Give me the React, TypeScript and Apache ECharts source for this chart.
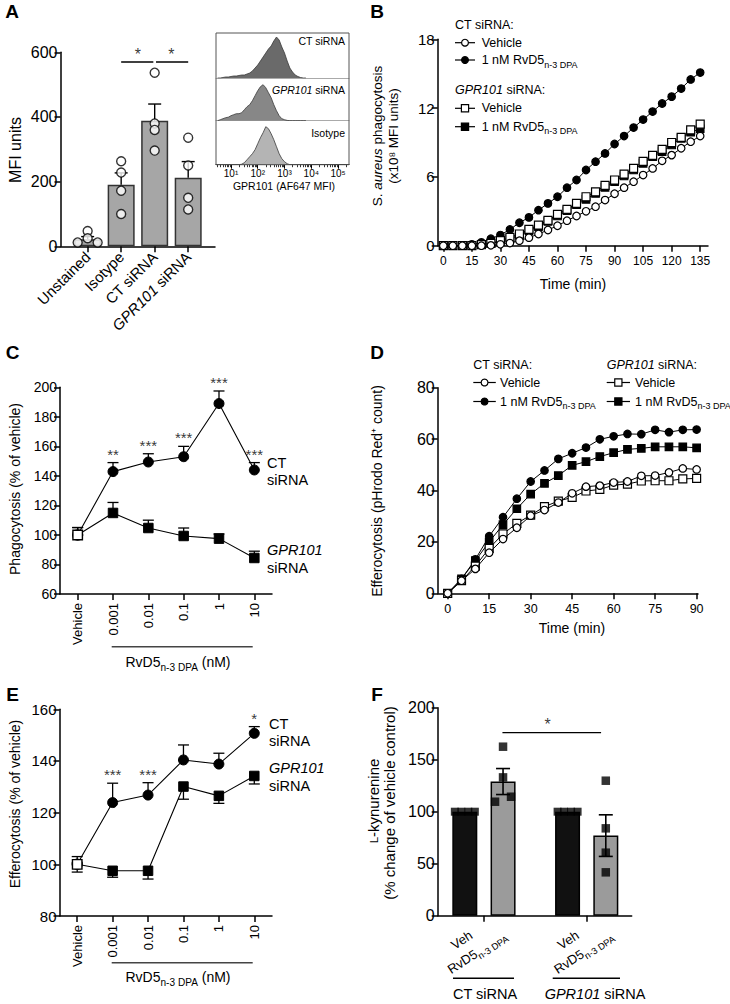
import React, { useEffect, useRef } from 'react';
import * as echarts from 'echarts';

const FONT = '"Liberation Sans", Arial, Helvetica, sans-serif';

// ---------------- Panel A ----------------
const aCategories = ['Unstained', 'Isotype', 'CT siRNA', 'GPR101 siRNA'];
const aMeans = [22, 190, 388, 212];
const aSem = [8, 37, 52, 50];
const aPoints = [
  [47, 25, 12, 12],
  [263, 228, 172, 100],
  [537, 380, 360, 296],
  [336, 250, 150, 114],
];
const aSigValue = 570;

// histogram inset (log10 of fluorescence, relative counts)
const histLog = [0.5, 0.6, 0.7, 0.8, 0.9, 1.0, 1.1, 1.2, 1.3, 1.4, 1.5, 1.6, 1.7, 1.8, 1.9, 2.0, 2.1, 2.2, 2.3, 2.4, 2.5, 2.6, 2.7, 2.8, 2.9, 3.0, 3.1, 3.2, 3.3, 3.4, 3.5, 3.6, 3.7, 3.8];
const histCT = [0, 0, 0.5, 1, 1, 1.5, 2, 2, 2.5, 3, 3, 4, 5, 7, 10, 13, 17, 21, 25, 29, 32, 37, 41, 38, 31, 25, 17, 10, 6, 3, 1.5, 0.5, 0, 0];
const histGPR = [0, 1, 2, 3, 3.5, 5, 6, 7, 7, 8, 11, 14, 16, 20, 25, 30, 34, 36, 33, 28, 23, 16, 10, 5, 2, 1, 0.3, 0, 0, 0, 0, 0, 0, 0];
const histIso = [0, 0, 0, 0, 0, 0, 0, 0, 0, 0.5, 2, 5, 8, 11, 15, 21, 27, 32, 38, 36, 31, 25, 18, 11, 6, 3, 1, 0, 0, 0, 0, 0, 0, 0];
const histTicks = [1, 2, 3, 4, 5];

// ---------------- Panel B ----------------
const bTime = [0, 5, 10, 15, 20, 25, 30, 35, 40, 45, 50, 55, 60, 65, 70, 75, 80, 85, 90, 95, 100, 105, 110, 115, 120, 125, 130, 135];
const bTicks = [0, 15, 30, 45, 60, 75, 90, 105, 120, 135];
const bCtVeh = [0, 0, 0, 0, 0, 0.03, 0.12, 0.23, 0.44, 0.7, 1.02, 1.37, 1.74, 2.18, 2.59, 3.0, 3.4, 3.98, 4.53, 5.06, 5.58, 6.16, 6.74, 7.4, 7.9, 8.5, 9.07, 9.56];
const bCtRv = [0, 0, 0, 0.12, 0.29, 0.61, 0.93, 1.42, 2.0, 2.47, 3.1, 3.69, 4.27, 5.06, 5.73, 6.6, 7.33, 8.05, 8.87, 9.56, 10.3, 11.0, 11.7, 12.4, 13.0, 13.7, 14.5, 15.1];
const bGprVeh = [0, 0, 0, 0, 0.09, 0.2, 0.44, 0.73, 1.02, 1.42, 1.8, 2.21, 2.73, 3.17, 3.69, 4.27, 4.7, 5.26, 5.73, 6.25, 6.74, 7.35, 7.88, 8.4, 9.0, 9.45, 10.1, 10.6];
const bGprRv = [0, 0, 0, 0.02, 0.09, 0.2, 0.38, 0.61, 0.9, 1.31, 1.66, 2.12, 2.59, 3.05, 3.58, 4.04, 4.56, 5.09, 5.58, 6.08, 6.6, 7.18, 7.76, 8.2, 8.78, 9.36, 9.9, 10.2];

// ---------------- Panel C ----------------
const doseCats = ['Vehicle', '0.001', '0.01', '0.1', '1', '10'];
const cCt = [100, 142.9, 149.4, 153, 189, 144];
const cCtSem = [5, 6.1, 5.6, 7, 8.5, 5];
const cGpr = [100, 114.9, 104.7, 99.3, 97.5, 84.4];
const cGprSem = [5, 7.1, 5.3, 5.4, 3.2, 4.6];
const cSig = ['', '**', '***', '***', '***', '***'];

// ---------------- Panel D ----------------
const dTime = [0, 5, 10, 15, 20, 25, 30, 35, 40, 45, 50, 55, 60, 65, 70, 75, 80, 85, 90];
const dTicks = [0, 15, 30, 45, 60, 75, 90];
const dCtVeh = [0, 4.9, 9.5, 15.8, 21.1, 25.5, 30.2, 32.4, 35.3, 38.9, 41.5, 41.9, 43.1, 43.5, 45.7, 45.8, 47.0, 48.6, 48.2];
const dCtRv = [0, 5.6, 13.2, 22.2, 29.6, 36.8, 43.5, 47.8, 52.3, 54.5, 56.7, 59.9, 61.1, 62.0, 61.9, 63.6, 62.7, 63.6, 63.7];
const dGprVeh = [0, 4.9, 10.6, 17.5, 23.1, 27.2, 30.4, 33.7, 35.9, 37.3, 39.8, 40.4, 42.1, 42.5, 43.7, 43.8, 43.8, 44.5, 44.7];
const dGprRv = [0, 5.6, 12.7, 20.0, 26.7, 32.9, 38.6, 42.8, 45.8, 49.8, 51.2, 53.2, 54.7, 56.0, 56.4, 57.0, 57.0, 57.0, 56.6];

// ---------------- Panel E ----------------
const eCt = [100, 123.9, 126.8, 140.4, 138.8, 150.7];
const eCtSem = [3, 7.5, 4.8, 5.8, 4.2, 2.6];
const eGpr = [100, 97.5, 97.5, 130.1, 126.5, 134.2];
const eGprSem = [3, 2.5, 3.2, 4.9, 2.9, 3.1];
const eSig = ['', '***', '***', '', '', '*'];

// ---------------- Panel F ----------------
const fGroups = ['CT siRNA', 'GPR101 siRNA'];
const fVeh = [100, 100];
const fRv = [129, 77];
const fRvSem = [12.5, 20];
const fVehPoints = [[100, 100, 100, 100], [100, 100, 100, 100]];
const fRvPoints = [[162.5, 133, 109.6, 114.4], [129.8, 84, 60.6, 41.7]];
const fSigValue = 176;

// ---------------- styling helpers ----------------
const AX = { color: '#000', width: 1.5 };
const SUP = ['⁰', '¹', '²', '³', '⁴', '⁵'];

function yAx(gridIndex: number, min: number, max: number, interval: number, fontSize: number) {
  return {
    type: 'value', gridIndex, min, max, interval,
    axisLine: { show: true, onZero: false, lineStyle: AX },
    axisTick: { show: true, length: 6, lineStyle: AX },
    axisLabel: { color: '#000', fontSize, fontFamily: FONT, margin: 3 },
    splitLine: { show: false },
  };
}

function hiddenY(gridIndex: number, max: number) {
  return { type: 'value', gridIndex, min: 0, max, show: false, splitLine: { show: false } };
}

function errSeries(axisIndex: number, data: number[][], cap: number, o: any = {}) {
  return {
    type: 'custom', xAxisIndex: axisIndex, yAxisIndex: axisIndex, z: o.z ?? 3, silent: true,
    data, encode: { x: 0, y: [1, 2] },
    renderItem: (_p: any, api: any) => {
      const x = api.value(0), lo = api.value(1), hi = api.value(2);
      const a = api.coord([x, lo]);
      const b = api.coord([x, hi]);
      const X = a[0] + (o.offset || 0);
      const st = { stroke: '#000', lineWidth: o.lw ?? 1.4 };
      const ch: any[] = [{ type: 'line', shape: { x1: X, y1: a[1], x2: X, y2: b[1] }, style: st }];
      if (o.capHi !== false) ch.push({ type: 'line', shape: { x1: X - cap / 2, y1: b[1], x2: X + cap / 2, y2: b[1] }, style: st });
      if (o.capLo) ch.push({ type: 'line', shape: { x1: X - cap / 2, y1: a[1], x2: X + cap / 2, y2: a[1] }, style: st });
      return { type: 'group', children: ch };
    },
  };
}

function richSet(size: number) {
  return {
    m: { fontSize: size, fontFamily: FONT, fill: '#000', lineHeight: size * 1.45, verticalAlign: 'middle' },
    i: { fontSize: size, fontFamily: FONT, fontStyle: 'italic', fill: '#000', lineHeight: size * 1.45, verticalAlign: 'middle' },
    s: { fontSize: size * 0.72, fontFamily: FONT, fill: '#000', lineHeight: size * 0.8, verticalAlign: 'bottom' },
    k: { fontSize: size * 0.76, fontFamily: FONT, fill: '#000', lineHeight: size * 1.45, verticalAlign: 'middle', padding: [2, 0, 0, 0] },
  };
}

function txt(x: number, y: number, text: string, o: any = {}) {
  const size = o.size || 14;
  const style: any = {
    x: 0, y: 0, text, fontFamily: FONT, fontSize: size,
    fontWeight: o.weight || 'normal', fontStyle: o.italic ? 'italic' : 'normal',
    fill: '#000',
    align: o.align || 'center',
    verticalAlign: o.va || 'middle',
  };
  if (text.indexOf('{') >= 0) style.rich = richSet(size);
  return { type: 'text', x, y, rotation: o.rotation || 0, z: 100, silent: true, style };
}

function gLine(x1: number, y1: number, x2: number, y2: number, stroke = '#000', lw = 1.5) {
  return { type: 'line', z: 100, silent: true, shape: { x1, y1, x2, y2 }, style: { stroke, lineWidth: lw } };
}

function legendRow(x0: number, y: number, glyphW: number, textX: number, marker: string, filled: boolean, label: string) {
  const cx = x0 + glyphW / 2;
  const st = { fill: filled ? '#000' : '#fff', stroke: '#000', lineWidth: 1.2 };
  const m = marker === 'circle'
    ? { type: 'circle', z: 101, silent: true, shape: { cx, cy: y, r: 3.4 }, style: st }
    : { type: 'rect', z: 101, silent: true, shape: { x: cx - 3.6, y: y - 3.6, width: 7.2, height: 7.2 }, style: st };
  return [gLine(x0, y, x0 + glyphW, y, '#000', 1.2), m, txt(textX, y, label, { align: 'left', size: 12.5 })];
}

const RV_LABEL = '{m|1 nM RvD5}{s|n-3 DPA}';

function lineSeries(axisIndex: number, xs: number[], ys: number[], symbol: string, filled: boolean, size: number, z: number) {
  return {
    type: 'line', xAxisIndex: axisIndex, yAxisIndex: axisIndex, z,
    data: xs.map((t, i) => [t, ys[i]]),
    symbol, symbolSize: size, showSymbol: true,
    lineStyle: { color: '#000', width: 1 },
    itemStyle: { color: filled ? '#000' : '#fff', borderColor: '#000', borderWidth: 1.2 },
    silent: true,
  };
}

function doseSeries(axisIndex: number, ys: number[], symbol: string, size: number, z: number) {
  return {
    type: 'line', xAxisIndex: axisIndex, yAxisIndex: axisIndex, z,
    data: ys.map((v, i) => (i === 0
      ? { value: v, itemStyle: { color: '#fff', borderColor: '#000', borderWidth: 1.4 } }
      : v)),
    symbol, symbolSize: size,
    lineStyle: { color: '#000', width: 1.1 },
    itemStyle: { color: '#000', borderColor: '#000', borderWidth: 1 },
    silent: true,
  };
}

function sigSeries(axisIndex: number, sig: string[], means: number[], sem: number[], size: number) {
  const data: any[] = [];
  sig.forEach((s, i) => {
    if (s) data.push({ value: [i, means[i] + sem[i]], label: { formatter: s } });
  });
  return {
    type: 'scatter', xAxisIndex: axisIndex, yAxisIndex: axisIndex, symbolSize: 0, z: 6, silent: true,
    data,
    label: { show: true, position: 'top', distance: 1, color: '#000', fontSize: size, fontFamily: FONT },
  };
}

function buildOption() {
  const F_OFF = 19.1;
  const grid = [
    { left: 60.5, top: 52.3, width: 154.5, height: 194 },
    { left: 216, top: 33, width: 133, height: 45 },
    { left: 216, top: 78, width: 133, height: 42.7 },
    { left: 216, top: 120.7, width: 133, height: 44 },
    { left: 437.7, top: 39.3, width: 270.3, height: 206.4 },
    { left: 60, top: 387.3, width: 212, height: 206.7 },
    { left: 437.7, top: 387.7, width: 260.3, height: 205.6 },
    { left: 59.5, top: 709.3, width: 212.5, height: 206.7 },
    { left: 437.7, top: 707.7, width: 194, height: 208 },
  ].map((g) => ({ ...g, containLabel: false, outerBoundsMode: 'none' }));

  const minorLog: number[] = [];
  for (let k = 0; k <= 5; k++) for (let m = 2; m <= 9; m++) {
    const v = k + Math.log10(m);
    if (v > 0.44 && v < 5.41) minorLog.push(v);
  }

  const histX = (gi: number, bottom: boolean) => ({
    type: 'value', gridIndex: gi, min: 0.44, max: 5.41,
    axisLine: { show: true, onZero: false, lineStyle: bottom ? { color: '#000', width: 1.2 } : { color: '#aaa', width: 1 } },
    axisTick: bottom ? { show: true, length: 4, customValues: histTicks, lineStyle: { color: '#000', width: 1 } } : { show: false },
    axisLabel: bottom
      ? { show: true, customValues: histTicks, formatter: (v: number) => '10' + SUP[v], color: '#000', fontSize: 10, fontFamily: FONT, margin: 4 }
      : { show: false },
    splitLine: { show: false },
  });

  const xAxis: any[] = [
    {
      type: 'value', gridIndex: 0, min: -0.81, max: 3.8,
      axisLine: { show: true, onZero: false, lineStyle: AX },
      axisTick: { show: true, length: 6, customValues: [0, 1, 2, 3], lineStyle: AX },
      axisLabel: {
        customValues: [0, 1, 2, 3], rotate: 45, margin: 8, color: '#000', fontSize: 15, fontFamily: FONT,
        formatter: (v: number) => (aCategories[v] === 'GPR101 siRNA' ? '{i|GPR101} siRNA' : aCategories[v]),
        rich: { i: { fontStyle: 'italic', fontSize: 15, fontFamily: FONT, color: '#000' } },
      },
      splitLine: { show: false },
    },
    histX(1, false),
    histX(2, false),
    histX(3, true),
    {
      type: 'value', gridIndex: 4, min: -2.95, max: 139.1,
      axisLine: { show: true, onZero: false, lineStyle: AX },
      axisTick: { show: true, length: 6, customValues: bTicks, lineStyle: AX },
      axisLabel: { customValues: bTicks, color: '#000', fontSize: 12, fontFamily: FONT, margin: 9 },
      splitLine: { show: false },
    },
    {
      type: 'category', gridIndex: 5, data: doseCats,
      axisLine: { show: true, onZero: false, lineStyle: AX },
      axisTick: { show: true, length: 6, alignWithLabel: true, lineStyle: AX },
      axisLabel: { rotate: 90, margin: 9, color: '#000', fontSize: 13, fontFamily: FONT },
    },
    {
      type: 'value', gridIndex: 6, min: -3.61, max: 90.5,
      axisLine: { show: true, onZero: false, lineStyle: AX },
      axisTick: { show: true, length: 6, customValues: dTicks, lineStyle: AX },
      axisLabel: { customValues: dTicks, color: '#000', fontSize: 12.5, fontFamily: FONT, margin: 9 },
      splitLine: { show: false },
    },
    {
      type: 'category', gridIndex: 7, data: doseCats,
      axisLine: { show: true, onZero: false, lineStyle: AX },
      axisTick: { show: true, length: 6, alignWithLabel: true, lineStyle: AX },
      axisLabel: { rotate: 90, margin: 9, color: '#000', fontSize: 13, fontFamily: FONT },
    },
    {
      type: 'value', gridIndex: 8, min: -0.45, max: 1.438,
      axisLine: { show: true, onZero: false, lineStyle: AX },
      axisTick: { show: true, length: 6, customValues: [0, 1], lineStyle: AX },
      axisLabel: { show: false },
      splitLine: { show: false },
    },
    {
      type: 'value', gridIndex: 3, min: 0.44, max: 5.41, position: 'bottom',
      axisLine: { show: false, onZero: false },
      axisTick: { show: true, length: 2.5, customValues: minorLog, lineStyle: { color: '#000', width: 0.8 } },
      axisLabel: { show: false },
      splitLine: { show: false },
    },
  ];

  const yAxis: any[] = [
    yAx(0, 0, 600, 200, 16),
    hiddenY(1, 45),
    hiddenY(2, 42.7),
    hiddenY(3, 44),
    yAx(4, 0, 18, 6, 15),
    yAx(5, 60, 200, 20, 14),
    yAx(6, 0, 80, 20, 16),
    yAx(7, 80, 160, 20, 15),
    yAx(8, 0, 200, 50, 16),
  ];

  const histSeries = (gi: number, vals: number[], color: string) => ({
    type: 'line', xAxisIndex: gi, yAxisIndex: gi, z: 2, silent: true,
    data: histLog.map((l, i) => [l, vals[i]]),
    symbol: 'none', lineStyle: { color: '#3a3a3a', width: 0.8 },
    areaStyle: { color, opacity: 1 },
  });

  const aJitter = [[0, 0, -10, 10], [0, 0, 0, 0], [0, 0, 0, 0], [0, 0, 0, 0]];
  const aPointData: any[] = [];
  aPoints.forEach((pts, g) => pts.forEach((v, k) => aPointData.push({ value: [g, v], symbolOffset: [aJitter[g][k], 0] })));

  const fVehJit = [-10, -3.5, 3.5, 10];
  const fRvJit = [[0, 0, -8, 8], [0, 0, 0, 0]];
  const fVehData: any[] = [];
  const fRvData: any[] = [];
  fVehPoints.forEach((pts, g) => pts.forEach((v, k) => fVehData.push({ value: [g, v], symbolOffset: [-F_OFF + fVehJit[k], 0] })));
  fRvPoints.forEach((pts, g) => pts.forEach((v, k) => fRvData.push({ value: [g, v], symbolOffset: [F_OFF + fRvJit[g][k], 0] })));

  const series: any[] = [
    // ---- A ----
    {
      type: 'bar', xAxisIndex: 0, yAxisIndex: 0, barWidth: 27, z: 2, silent: true,
      data: aMeans.map((v, i) => [i, v]),
      itemStyle: { color: '#a6a6a6', borderColor: '#333', borderWidth: 1.5 },
    },
    errSeries(0, aMeans.map((v, i) => [i, v, v + aSem[i]]), 13, { z: 3 }),
    {
      type: 'scatter', xAxisIndex: 0, yAxisIndex: 0, z: 5, silent: true, symbol: 'circle', symbolSize: 9,
      data: aPointData,
      itemStyle: { color: '#fff', borderColor: '#000', borderWidth: 1.4 },
    },
    {
      type: 'line', xAxisIndex: 0, yAxisIndex: 0, symbol: 'none', silent: true, z: 4,
      data: [[1, aSigValue], [1.96, aSigValue]], lineStyle: { color: '#000', width: 1.3 },
    },
    {
      type: 'line', xAxisIndex: 0, yAxisIndex: 0, symbol: 'none', silent: true, z: 4,
      data: [[2.04, aSigValue], [3, aSigValue]], lineStyle: { color: '#000', width: 1.3 },
    },
    {
      type: 'scatter', xAxisIndex: 0, yAxisIndex: 0, symbolSize: 0, silent: true, z: 6,
      data: [[1.5, aSigValue], [2.5, aSigValue]],
      label: { show: true, formatter: '*', position: 'top', distance: 0, color: '#000', fontSize: 16, fontFamily: FONT },
    },
    histSeries(1, histCT, '#6a6a6a'),
    histSeries(2, histGPR, '#878787'),
    histSeries(3, histIso, '#b4b4b4'),
    // ---- B ----
    lineSeries(4, bTime, bCtRv, 'circle', true, 7.5, 3),
    lineSeries(4, bTime, bGprRv, 'rect', true, 7.5, 4),
    lineSeries(4, bTime, bGprVeh, 'rect', false, 8, 5),
    lineSeries(4, bTime, bCtVeh, 'circle', false, 7.5, 6),
    // ---- C ----
    errSeries(5, cCt.map((v, i) => [i, v, v + cCtSem[i]]), 11, { z: 2, lw: 1.3 }),
    errSeries(5, cGpr.map((v, i) => [i, v, v + cGprSem[i]]), 11, { z: 2, lw: 1.3 }),
    doseSeries(5, cCt, 'circle', 10, 4),
    doseSeries(5, cGpr, 'rect', 9.5, 5),
    sigSeries(5, cSig, cCt, cCtSem, 15),
    // ---- D ----
    lineSeries(6, dTime, dCtRv, 'circle', true, 7.5, 3),
    lineSeries(6, dTime, dGprRv, 'rect', true, 7.5, 4),
    lineSeries(6, dTime, dGprVeh, 'rect', false, 8, 5),
    lineSeries(6, dTime, dCtVeh, 'circle', false, 7.5, 6),
    // ---- E ----
    errSeries(7, eCt.map((v, i) => [i, v, v + eCtSem[i]]), 11, { z: 2, lw: 1.3 }),
    errSeries(7, eGpr.map((v, i) => [i, v, v - eGprSem[i]]), 11, { z: 2, lw: 1.3 }),
    doseSeries(7, eCt, 'circle', 10, 4),
    doseSeries(7, eGpr, 'rect', 9.5, 5),
    sigSeries(7, eSig, eCt, eCtSem, 15),
    // ---- F ----
    {
      type: 'bar', xAxisIndex: 8, yAxisIndex: 8, barWidth: 25, barGap: '53%', z: 2, silent: true,
      data: fVeh.map((v, i) => [i, v]),
      itemStyle: { color: '#111', borderColor: '#000', borderWidth: 1.5 },
    },
    {
      type: 'bar', xAxisIndex: 8, yAxisIndex: 8, barWidth: 25, barGap: '53%', z: 2, silent: true,
      data: fRv.map((v, i) => [i, v]),
      itemStyle: { color: '#9b9b9b', borderColor: '#000', borderWidth: 1.5 },
    },
    errSeries(8, fRv.map((v, i) => [i, v - fRvSem[i], v + fRvSem[i]]), 14, { z: 4, offset: F_OFF, capLo: true, lw: 1.6 }),
    {
      type: 'scatter', xAxisIndex: 8, yAxisIndex: 8, z: 5, silent: true, symbol: 'rect', symbolSize: 8,
      data: fVehData, itemStyle: { color: '#000' },
    },
    {
      type: 'scatter', xAxisIndex: 8, yAxisIndex: 8, z: 5, silent: true, symbol: 'rect', symbolSize: 8.5,
      data: fRvData, itemStyle: { color: '#000' },
    },
    {
      type: 'line', xAxisIndex: 8, yAxisIndex: 8, symbol: 'none', silent: true, z: 4,
      data: [[0.18, fSigValue], [1.14, fSigValue]], lineStyle: { color: '#000', width: 1.3 },
    },
    {
      type: 'scatter', xAxisIndex: 8, yAxisIndex: 8, symbolSize: 0, silent: true, z: 6,
      data: [[0.62, fSigValue]],
      label: { show: true, formatter: '*', position: 'top', distance: 0, color: '#000', fontSize: 16, fontFamily: FONT },
    },
  ];

  const deg = Math.PI / 180;
  const graphic: any[] = [
    // panel letters
    txt(12, 11, 'A', { size: 19, weight: 'bold' }),
    txt(377, 11, 'B', { size: 19, weight: 'bold' }),
    txt(12.5, 352, 'C', { size: 19, weight: 'bold' }),
    txt(377, 352, 'D', { size: 19, weight: 'bold' }),
    txt(12.5, 694, 'E', { size: 19, weight: 'bold' }),
    txt(377, 694, 'F', { size: 19, weight: 'bold' }),

    // ---- A ----
    txt(15, 150, 'MFI units', { size: 16, rotation: 90 * deg }),
    {
      type: 'rect', z: 99, silent: true, shape: { x: 216, y: 33, width: 133, height: 131.7 },
      style: { fill: 'none', stroke: '#555', lineWidth: 1 },
    },
    txt(345, 41, 'CT siRNA', { size: 10.5, align: 'right' }),
    txt(345, 90, '{i|GPR101}{m| siRNA}', { size: 10.5, align: 'right' }),
    txt(345, 132.5, 'Isotype', { size: 10.5, align: 'right' }),
    txt(284, 186, 'GPR101 (AF647 MFI)', { size: 10.5 }),

    // ---- B ----
    txt(377, 136, '{m|S. }{i|aureus}{m| phagocytosis}', { size: 13.5, rotation: 90 * deg }),
    txt(393.5, 136, '(x10⁸ MFI units)', { size: 13.5, rotation: 90 * deg }),
    txt(573, 284, 'Time (min)', { size: 14 }),
    txt(455, 25, 'CT siRNA:', { size: 12.5, align: 'left' }),
    ...legendRow(455, 42.7, 20, 481.7, 'circle', false, 'Vehicle'),
    ...legendRow(455, 60, 20, 481.7, 'circle', true, RV_LABEL),
    txt(455, 90, '{i|GPR101}{m| siRNA:}', { size: 12.5, align: 'left' }),
    ...legendRow(455, 108.3, 20, 481.7, 'rect', false, 'Vehicle'),
    ...legendRow(455, 126.7, 20, 481.7, 'rect', true, RV_LABEL),

    // ---- C ----
    txt(15, 489, 'Phagocytosis (% of vehicle)', { size: 14, rotation: 90 * deg }),
    txt(267, 463, 'CT', { size: 14.5, align: 'left' }),
    txt(267, 480, 'siRNA', { size: 14.5, align: 'left' }),
    txt(267, 550, 'GPR101', { size: 14.5, align: 'left', italic: true }),
    txt(267, 568, 'siRNA', { size: 14.5, align: 'left' }),
    gLine(111.7, 646.7, 252.7, 646.7, '#444', 1.5),
    txt(178, 662, '{m|RvD5}{s|n-3 DPA}{m| (nM)}', { size: 14 }),

    // ---- D ----
    txt(377, 491, 'Efferocytosis (pHrodo Red⁺ count)', { size: 14, rotation: 90 * deg }),
    txt(572, 628, 'Time (min)', { size: 14 }),
    txt(473.3, 364.5, 'CT siRNA:', { size: 12.5, align: 'left' }),
    ...legendRow(473.3, 382.5, 22.5, 500, 'circle', false, 'Vehicle'),
    ...legendRow(473.3, 401.5, 22.5, 500, 'circle', true, RV_LABEL),
    txt(606.7, 364.5, '{i|GPR101}{m| siRNA:}', { size: 12.5, align: 'left' }),
    ...legendRow(606.7, 382.5, 23.3, 635, 'rect', false, 'Vehicle'),
    ...legendRow(606.7, 401.5, 23.3, 635, 'rect', true, RV_LABEL),

    // ---- E ----
    txt(15, 804, 'Efferocytosis (% of vehicle)', { size: 14, rotation: 90 * deg }),
    txt(269, 724, 'CT', { size: 14.5, align: 'left' }),
    txt(269, 741, 'siRNA', { size: 14.5, align: 'left' }),
    txt(269, 768, 'GPR101', { size: 14.5, align: 'left', italic: true }),
    txt(269, 786, 'siRNA', { size: 14.5, align: 'left' }),
    gLine(111.7, 962.7, 252.7, 962.7, '#444', 1.5),
    txt(178, 977, '{m|RvD5}{s|n-3 DPA}{m| (nM)}', { size: 14 }),

    // ---- F ----
    txt(373, 801, '{k|L}{m|-kynurenine}', { size: 15, rotation: 90 * deg }),
    txt(389, 803, '(% change of vehicle control)', { size: 15, rotation: 90 * deg }),
    txt(466, 926, '{m|Veh}', { size: 13, align: 'right', va: 'top', rotation: 33 * deg }),
    txt(500, 926, '{m|RvD5}{s|n-3 DPA}', { size: 13, align: 'right', va: 'top', rotation: 33 * deg }),
    txt(572.5, 926, '{m|Veh}', { size: 13, align: 'right', va: 'top', rotation: 33 * deg }),
    txt(606.5, 926, '{m|RvD5}{s|n-3 DPA}', { size: 13, align: 'right', va: 'top', rotation: 33 * deg }),
    gLine(453, 978.3, 514, 978.3, '#000', 1.5),
    gLine(552.7, 978.3, 620, 978.3, '#000', 1.5),
    txt(485, 993.5, fGroups[0], { size: 14.5 }),
    txt(595, 993.5, '{i|GPR101}{m| siRNA}', { size: 14.5 }),
  ];

  return {
    animation: false,
    backgroundColor: '#fff',
    textStyle: { fontFamily: FONT },
    grid, xAxis, yAxis, series, graphic,
  };
}

export default function App() {
  const ref = useRef<HTMLDivElement>(null);
  useEffect(() => {
    const chart = echarts.init(ref.current as HTMLDivElement, null, { renderer: 'svg' });
    chart.setOption(buildOption() as any);
    return () => chart.dispose();
  }, []);
  return (
    <div
      ref={ref}
      style={{ position: 'absolute', left: 0, top: 0, width: 730, height: 1004, background: '#fff' }}
    />
  );
}
